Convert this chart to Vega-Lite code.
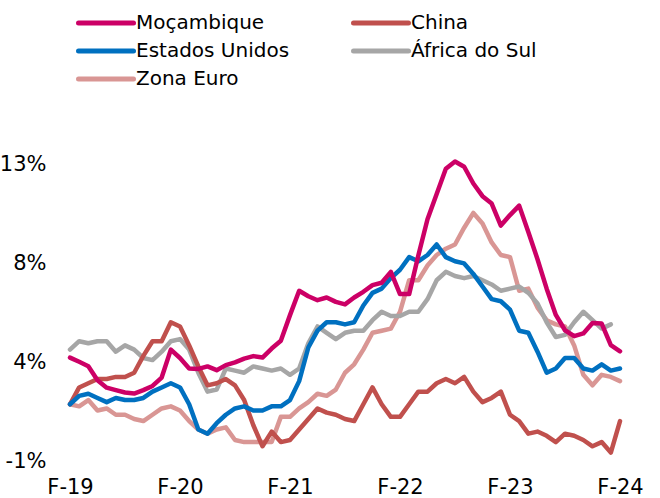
{
  "$schema": "https://vega.github.io/schema/vega-lite/v6.json",
  "autosize": {"type": "none"},
  "width": 550,
  "height": 330,
  "padding": {"left": 70, "top": 131, "right": 40, "bottom": 37},
  "background": "white",
  "config": {"view": {"stroke": null}, "font": "DejaVu Sans"},
  "data": {"values": [
    {"m":"2019-02","Moçambique":3.72,"China":1.5,"Estados Unidos":1.5,"África do Sul":4.1,"Zona Euro":1.5},
    {"m":"2019-03","Moçambique":3.52,"China":2.3,"Estados Unidos":1.9,"África do Sul":4.5,"Zona Euro":1.4},
    {"m":"2019-04","Moçambique":3.31,"China":2.5,"Estados Unidos":2.0,"África do Sul":4.4,"Zona Euro":1.7},
    {"m":"2019-05","Moçambique":2.64,"China":2.7,"Estados Unidos":1.8,"África do Sul":4.5,"Zona Euro":1.2},
    {"m":"2019-06","Moçambique":2.29,"China":2.7,"Estados Unidos":1.6,"África do Sul":4.5,"Zona Euro":1.3},
    {"m":"2019-07","Moçambique":2.17,"China":2.8,"Estados Unidos":1.8,"África do Sul":4.0,"Zona Euro":1.0},
    {"m":"2019-08","Moçambique":2.06,"China":2.8,"Estados Unidos":1.7,"África do Sul":4.3,"Zona Euro":1.0},
    {"m":"2019-09","Moçambique":2.01,"China":3.0,"Estados Unidos":1.7,"África do Sul":4.1,"Zona Euro":0.8},
    {"m":"2019-10","Moçambique":2.17,"China":3.8,"Estados Unidos":1.8,"África do Sul":3.7,"Zona Euro":0.7},
    {"m":"2019-11","Moçambique":2.37,"China":4.5,"Estados Unidos":2.1,"África do Sul":3.6,"Zona Euro":1.0},
    {"m":"2019-12","Moçambique":2.77,"China":4.5,"Estados Unidos":2.3,"África do Sul":4.0,"Zona Euro":1.3},
    {"m":"2020-01","Moçambique":4.1,"China":5.4,"Estados Unidos":2.5,"África do Sul":4.5,"Zona Euro":1.4},
    {"m":"2020-02","Moçambique":3.7,"China":5.2,"Estados Unidos":2.3,"África do Sul":4.6,"Zona Euro":1.2},
    {"m":"2020-03","Moçambique":3.2,"China":4.3,"Estados Unidos":1.5,"África do Sul":4.1,"Zona Euro":0.7},
    {"m":"2020-04","Moçambique":3.18,"China":3.3,"Estados Unidos":0.3,"África do Sul":3.0,"Zona Euro":0.3},
    {"m":"2020-05","Moçambique":3.3,"China":2.4,"Estados Unidos":0.1,"África do Sul":2.1,"Zona Euro":0.1},
    {"m":"2020-06","Moçambique":3.12,"China":2.5,"Estados Unidos":0.6,"África do Sul":2.2,"Zona Euro":0.3},
    {"m":"2020-07","Moçambique":3.36,"China":2.7,"Estados Unidos":1.0,"África do Sul":3.2,"Zona Euro":0.4},
    {"m":"2020-08","Moçambique":3.49,"China":2.4,"Estados Unidos":1.3,"África do Sul":3.1,"Zona Euro":-0.2},
    {"m":"2020-09","Moçambique":3.67,"China":1.7,"Estados Unidos":1.4,"África do Sul":3.0,"Zona Euro":-0.3},
    {"m":"2020-10","Moçambique":3.79,"China":0.5,"Estados Unidos":1.2,"África do Sul":3.3,"Zona Euro":-0.3},
    {"m":"2020-11","Moçambique":3.72,"China":-0.5,"Estados Unidos":1.2,"África do Sul":3.2,"Zona Euro":-0.3},
    {"m":"2020-12","Moçambique":4.15,"China":0.2,"Estados Unidos":1.4,"África do Sul":3.1,"Zona Euro":-0.3},
    {"m":"2021-01","Moçambique":4.52,"China":-0.3,"Estados Unidos":1.4,"África do Sul":3.2,"Zona Euro":0.9},
    {"m":"2021-02","Moçambique":5.74,"China":-0.2,"Estados Unidos":1.7,"África do Sul":2.9,"Zona Euro":0.9},
    {"m":"2021-03","Moçambique":6.9,"China":0.3,"Estados Unidos":2.6,"África do Sul":3.2,"Zona Euro":1.3},
    {"m":"2021-04","Moçambique":6.64,"China":0.8,"Estados Unidos":4.2,"África do Sul":4.4,"Zona Euro":1.6},
    {"m":"2021-05","Moçambique":6.45,"China":1.3,"Estados Unidos":5.0,"África do Sul":5.2,"Zona Euro":2.0},
    {"m":"2021-06","Moçambique":6.58,"China":1.1,"Estados Unidos":5.4,"África do Sul":4.9,"Zona Euro":1.9},
    {"m":"2021-07","Moçambique":6.37,"China":1.0,"Estados Unidos":5.4,"África do Sul":4.6,"Zona Euro":2.2},
    {"m":"2021-08","Moçambique":6.25,"China":0.8,"Estados Unidos":5.3,"África do Sul":4.9,"Zona Euro":3.0},
    {"m":"2021-09","Moçambique":6.58,"China":0.7,"Estados Unidos":5.4,"África do Sul":5.0,"Zona Euro":3.4},
    {"m":"2021-10","Moçambique":6.85,"China":1.5,"Estados Unidos":6.2,"África do Sul":5.0,"Zona Euro":4.1},
    {"m":"2021-11","Moçambique":7.17,"China":2.3,"Estados Unidos":6.8,"África do Sul":5.5,"Zona Euro":4.9},
    {"m":"2021-12","Moçambique":7.28,"China":1.5,"Estados Unidos":7.0,"África do Sul":5.9,"Zona Euro":5.0},
    {"m":"2022-01","Moçambique":7.8,"China":0.9,"Estados Unidos":7.5,"África do Sul":5.7,"Zona Euro":5.1},
    {"m":"2022-02","Moçambique":6.74,"China":0.9,"Estados Unidos":7.9,"África do Sul":5.7,"Zona Euro":5.9},
    {"m":"2022-03","Moçambique":6.74,"China":1.5,"Estados Unidos":8.5,"África do Sul":5.9,"Zona Euro":7.4},
    {"m":"2022-04","Moçambique":8.58,"China":2.1,"Estados Unidos":8.3,"África do Sul":5.9,"Zona Euro":7.4},
    {"m":"2022-05","Moçambique":10.3,"China":2.1,"Estados Unidos":8.6,"África do Sul":6.5,"Zona Euro":8.1},
    {"m":"2022-06","Moçambique":11.5,"China":2.5,"Estados Unidos":9.1,"África do Sul":7.4,"Zona Euro":8.6},
    {"m":"2022-07","Moçambique":12.7,"China":2.7,"Estados Unidos":8.5,"África do Sul":7.8,"Zona Euro":8.9},
    {"m":"2022-08","Moçambique":13.05,"China":2.5,"Estados Unidos":8.3,"África do Sul":7.6,"Zona Euro":9.1},
    {"m":"2022-09","Moçambique":12.8,"China":2.8,"Estados Unidos":8.2,"África do Sul":7.5,"Zona Euro":9.9},
    {"m":"2022-10","Moçambique":12.0,"China":2.1,"Estados Unidos":7.7,"África do Sul":7.6,"Zona Euro":10.6},
    {"m":"2022-11","Moçambique":11.4,"China":1.6,"Estados Unidos":7.1,"África do Sul":7.4,"Zona Euro":10.1},
    {"m":"2022-12","Moçambique":11.05,"China":1.8,"Estados Unidos":6.5,"África do Sul":7.2,"Zona Euro":9.2},
    {"m":"2023-01","Moçambique":10.0,"China":2.1,"Estados Unidos":6.4,"África do Sul":6.9,"Zona Euro":8.6},
    {"m":"2023-02","Moçambique":10.5,"China":1.0,"Estados Unidos":6.0,"África do Sul":7.0,"Zona Euro":8.5},
    {"m":"2023-03","Moçambique":10.95,"China":0.7,"Estados Unidos":5.0,"África do Sul":7.1,"Zona Euro":6.9},
    {"m":"2023-04","Moçambique":9.7,"China":0.1,"Estados Unidos":4.9,"África do Sul":6.8,"Zona Euro":7.0},
    {"m":"2023-05","Moçambique":8.4,"China":0.2,"Estados Unidos":4.0,"África do Sul":6.3,"Zona Euro":6.1},
    {"m":"2023-06","Moçambique":7.0,"China":0.0,"Estados Unidos":3.0,"África do Sul":5.4,"Zona Euro":5.5},
    {"m":"2023-07","Moçambique":5.75,"China":-0.3,"Estados Unidos":3.2,"África do Sul":4.7,"Zona Euro":5.3},
    {"m":"2023-08","Moçambique":5.02,"China":0.1,"Estados Unidos":3.7,"África do Sul":4.8,"Zona Euro":5.2},
    {"m":"2023-09","Moçambique":4.74,"China":0.0,"Estados Unidos":3.7,"África do Sul":5.4,"Zona Euro":4.3},
    {"m":"2023-10","Moçambique":4.87,"China":-0.2,"Estados Unidos":3.2,"África do Sul":5.9,"Zona Euro":2.9},
    {"m":"2023-11","Moçambique":5.37,"China":-0.5,"Estados Unidos":3.1,"África do Sul":5.5,"Zona Euro":2.4},
    {"m":"2023-12","Moçambique":5.34,"China":-0.3,"Estados Unidos":3.4,"África do Sul":5.1,"Zona Euro":2.9},
    {"m":"2024-01","Moçambique":4.31,"China":-0.8,"Estados Unidos":3.1,"África do Sul":5.3,"Zona Euro":2.8},
    {"m":"2024-02","Moçambique":4.02,"China":0.7,"Estados Unidos":3.2,"Zona Euro":2.6}
  ]},
  "transform": [
    {"fold": ["Zona Euro", "África do Sul", "China", "Estados Unidos", "Moçambique"], "as": ["s", "v"]},
    {"filter": "isValid(datum.v)"}
  ],
  "mark": {"type": "line", "strokeWidth": 4.5, "strokeCap": "round", "strokeJoin": "round"},
  "encoding": {
    "x": {
      "field": "m", "type": "ordinal",
      "scale": {"type": "point", "padding": 0},
      "axis": {
        "values": ["2019-02", "2020-02", "2021-02", "2022-02", "2023-02", "2024-02"],
        "labelExpr": "'F-' + substring(datum.value, 2, 4)",
        "title": null, "domain": false, "ticks": false, "grid": false,
        "labelAngle": 0, "labelFont": "DejaVu Sans", "labelFontSize": 21,
        "labelColor": "#000000", "labelPadding": 15, "labelOverlap": false, "labelFlush": false
      }
    },
    "y": {
      "field": "v", "type": "quantitative",
      "scale": {"domain": [-1.2, 14.5], "nice": false, "zero": false},
      "axis": {
        "values": [-1.2, 3.5, 8.2, 12.9],
        "labelExpr": "round(datum.value) + '%'",
        "title": null, "domain": false, "ticks": false, "grid": false,
        "labelFont": "DejaVu Sans", "labelFontSize": 21, "labelColor": "#000000",
        "labelPadding": 24, "labelOverlap": false, "labelFlush": false
      }
    },
    "color": {
      "field": "s", "type": "nominal",
      "scale": {
        "domain": ["Moçambique", "Estados Unidos", "Zona Euro", "China", "África do Sul"],
        "range": ["#CC0066", "#0070C0", "#D99694", "#C0504D", "#A6A6A6"]
      },
      "legend": {
        "title": null, "orient": "none", "legendX": 26, "legendY": -118,
        "columns": 2, "columnPadding": 53, "rowPadding": 8, "padding": 0,
        "symbolType": "M-5.5,0L5.5,0", "symbolSize": 100, "symbolStrokeWidth": 5,
        "symbolOpacity": 1, "labelOffset": 20,
        "labelFont": "DejaVu Sans", "labelFontSize": 20, "labelColor": "#000000", "labelLimit": 400,
        "encode": {"symbols": {"update": {"strokeCap": {"value": "round"}}}}
      }
    }
  }
}
